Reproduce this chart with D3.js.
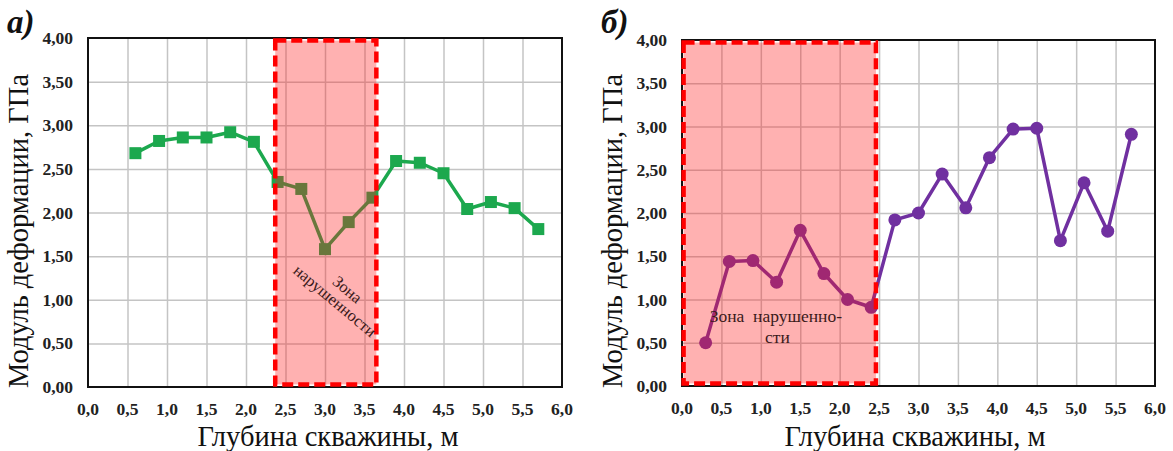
<!DOCTYPE html>
<html>
<head>
<meta charset="utf-8">
<script src="https://cdn.jsdelivr.net/npm/d3@7"></script>
<style>
	body { margin: 0; background: #fff; }
	svg { display: block; font-family: "Liberation Serif", "Times New Roman", serif; }
</style>
</head>
<body>
<div id="chart"></div>
<script>
// depth, m
let depthA = [0.6, 0.9, 1.2, 1.5, 1.8, 2.1, 2.4, 2.7, 3.0, 3.3, 3.6, 3.9, 4.2, 4.5, 4.8, 5.1, 5.4, 5.7];
let modulusA = [2.68, 2.82, 2.86, 2.86, 2.92, 2.81, 2.35, 2.27, 1.58, 1.89, 2.17, 2.59, 2.57, 2.45, 2.04, 2.12, 2.05, 1.81];

let depthB = [0.3, 0.6, 0.9, 1.2, 1.5, 1.8, 2.1, 2.4, 2.7, 3.0, 3.3, 3.6, 3.9, 4.2, 4.5, 4.8, 5.1, 5.4, 5.7];
let modulusB = [0.50, 1.44, 1.45, 1.20, 1.80, 1.30, 1.00, 0.91, 1.92, 2.00, 2.45, 2.06, 2.64, 2.97, 2.98, 1.68, 2.35, 1.79, 2.91];

// fractured zones (depth from / to)
let zoneA = [2.37, 3.65];
let zoneB = [0.02, 2.46];

let xTicks = [0, 0.5, 1, 1.5, 2, 2.5, 3, 3.5, 4, 4.5, 5, 5.5, 6];
let yTicks = [0, 0.5, 1, 1.5, 2, 2.5, 3, 3.5, 4];

let xTitle = "Глубина скважины, м";
let yTitle = "Модуль деформации, ГПа";

let W = 1173, H = 451;

let svg = d3.select("#chart")
	.append("svg")
	.attr("width", W)
	.attr("height", H);

let fmtX = (d) => d.toFixed(1).replace(".", ",");
let fmtY = (d) => d.toFixed(2).replace(".", ",");

function drawPanel(opts) {
	let g = svg.append("g");
	let x = d3.scaleLinear().domain([0, 6]).range([opts.left, opts.right]);
	let y = d3.scaleLinear().domain([0, 4]).range([opts.bottom, opts.top]);

	// grid
	g.append("g")
		.attr("transform", "translate(0," + opts.bottom + ")")
		.call(d3.axisBottom(x).tickValues(xTicks.slice(1, -1)).tickSize(-(opts.bottom - opts.top)).tickFormat(""))
		.call(s => s.select(".domain").remove())
		.selectAll("line").attr("stroke", "#c4c4c4").attr("stroke-width", 1.5);
	g.append("g")
		.attr("transform", "translate(" + opts.left + ",0)")
		.call(d3.axisLeft(y).tickValues(yTicks.slice(1, -1)).tickSize(-(opts.right - opts.left)).tickFormat(""))
		.call(s => s.select(".domain").remove())
		.selectAll("line").attr("stroke", "#c4c4c4").attr("stroke-width", 1.5);

	// tick labels
	g.selectAll(".xl")
		.data(xTicks)
		.enter().append("text")
		.attr("x", (d) => x(d))
		.attr("y", opts.bottom + 28)
		.attr("text-anchor", "middle")
		.attr("font-weight", "bold")
		.attr("font-size", 17.5)
		.attr("fill", "#222")
		.text(fmtX);
	g.selectAll(".yl")
		.data(yTicks)
		.enter().append("text")
		.attr("x", opts.left - 15)
		.attr("y", (d) => y(d) + 6)
		.attr("text-anchor", "end")
		.attr("font-weight", "bold")
		.attr("font-size", 17.5)
		.attr("fill", "#222")
		.text(fmtY);

	// frame
	g.append("rect")
		.attr("x", opts.left)
		.attr("y", opts.top)
		.attr("width", opts.right - opts.left)
		.attr("height", opts.bottom - opts.top)
		.attr("fill", "none")
		.attr("stroke", "#111")
		.attr("stroke-width", 2);

	// series
	let pts = opts.depth.map((d, i) => [d, opts.values[i]]);
	g.append("path")
		.datum(pts)
		.attr("fill", "none")
		.attr("stroke", opts.color)
		.attr("stroke-width", 3.5)
		.attr("stroke-linejoin", "round")
		.attr("d", d3.line().x((d) => x(d[0])).y((d) => y(d[1])));

	if (opts.marker === "square") {
		g.selectAll(".m")
			.data(pts)
			.enter().append("rect")
			.attr("x", (d) => x(d[0]) - 6)
			.attr("y", (d) => y(d[1]) - 6)
			.attr("width", 12)
			.attr("height", 12)
			.attr("fill", opts.color);
	} else {
		g.selectAll(".m")
			.data(pts)
			.enter().append("circle")
			.attr("cx", (d) => x(d[0]))
			.attr("cy", (d) => y(d[1]))
			.attr("r", 6.5)
			.attr("fill", opts.color);
	}

	// fractured zone overlay
	g.append("rect")
		.attr("x", x(opts.zone[0]))
		.attr("y", y(3.97))
		.attr("width", x(opts.zone[1]) - x(opts.zone[0]))
		.attr("height", y(0.03) - y(3.97))
		.attr("fill", "#ff1a1a")
		.attr("fill-opacity", 0.34)
		.attr("stroke", "#ff0000")
		.attr("stroke-width", 4.5)
		.attr("stroke-dasharray", "11,5");

	// axis titles
	g.append("text")
		.attr("x", opts.xTitleX)
		.attr("y", 446)
		.attr("text-anchor", "middle")
		.attr("font-size", 28.5)
		.attr("fill", "#111")
		.text(xTitle);
	g.append("text")
		.attr("transform", "translate(" + (opts.left - 60) + ",231) rotate(-90)")
		.attr("y", 0)
		.attr("text-anchor", "middle")
		.attr("font-size", 28.5)
		.attr("fill", "#111")
		.text(yTitle);

	// panel label
	g.append("text")
		.attr("x", opts.left - 81)
		.attr("y", 33)
		.attr("font-size", 33)
		.attr("font-weight", "bold")
		.attr("font-style", "italic")
		.attr("fill", "#111")
		.text(opts.label);

	return { g: g, x: x, y: y };
}

let pa = drawPanel({ left: 88, right: 562, top: 38, bottom: 387, depth: depthA, values: modulusA,
	color: "#1ca84e", marker: "square", zone: zoneA, label: "а)", xTitleX: 328 });
let pb = drawPanel({ left: 682, right: 1155, top: 40, bottom: 386, depth: depthB, values: modulusB,
	color: "#7030a0", marker: "circle", zone: zoneB, label: "б)", xTitleX: 915 });

// zone captions
pa.g.append("text")
	.attr("transform", "translate(" + pa.x(3.24) + "," + pa.y(1.07) + ") rotate(40)")
	.attr("text-anchor", "middle")
	.attr("font-size", 16.5)
	.attr("fill", "#3a1a1a")
	.text("Зона");
pa.g.append("text")
	.attr("transform", "translate(" + pa.x(3.08) + "," + pa.y(0.94) + ") rotate(40)")
	.attr("text-anchor", "middle")
	.attr("font-size", 16.5)
	.attr("fill", "#3a1a1a")
	.text("нарушенности");

pb.g.append("text")
	.attr("x", pb.x(1.19))
	.attr("y", pb.y(0.74))
	.attr("text-anchor", "middle")
	.attr("font-size", 17.5)
	.attr("fill", "#3a1a1a")
	.attr("xml:space", "preserve")
	.style("white-space", "pre")
	.text("Зона  нарушенно-");
pb.g.append("text")
	.attr("x", pb.x(1.21))
	.attr("y", pb.y(0.5))
	.attr("text-anchor", "middle")
	.attr("font-size", 17.5)
	.attr("fill", "#3a1a1a")
	.text("сти");
</script>
</body>
</html>
